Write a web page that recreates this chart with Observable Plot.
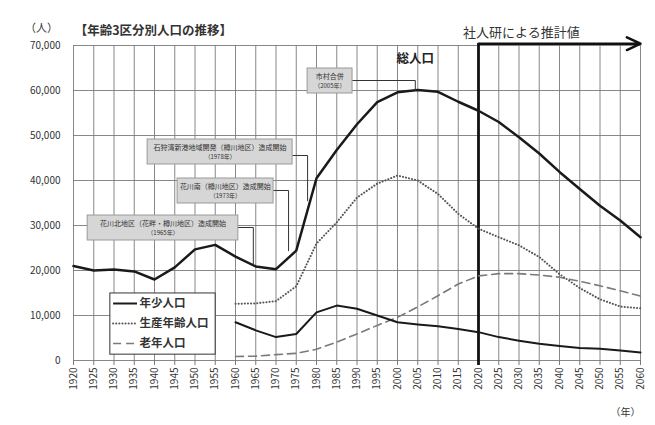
<!DOCTYPE html>
<html><head><meta charset="utf-8">
<script src="https://cdn.jsdelivr.net/npm/d3@7"></script>
<script src="https://cdn.jsdelivr.net/npm/@observablehq/plot@0.6"></script>
<style>body{margin:0;background:#fff;}</style>
</head><body><div id="chart"></div>
<script>
// ---- data ----
const years = [1920,1925,1930,1935,1940,1945,1950,1955,1960,1965,1970,1975,1980,1985,1990,1995,2000,2005,2010,2015,2020,2025,2030,2035,2040,2045,2050,2055,2060];
const total = [21000,20000,20200,19800,18000,20700,24700,25700,23100,20900,20300,24400,40500,46800,52500,57400,59600,60100,59700,57500,55500,53000,49600,46000,41900,38100,34400,31100,27400];
const ageYears = [1960,1965,1970,1975,1980,1985,1990,1995,2000,2005,2010,2015,2020,2025,2030,2035,2040,2045,2050,2055,2060];
const youth   = [8500,6700,5200,5900,10700,12200,11500,10000,8500,8000,7600,7000,6300,5200,4400,3700,3200,2800,2600,2200,1800];
const working = [12600,12700,13200,16500,26000,30700,36200,39300,41100,40000,37000,32600,29300,27400,25600,23000,19200,16100,13600,12000,11600];
const elderly = [900,950,1300,1600,2500,4100,5900,7800,9600,11900,14400,17000,18800,19300,19300,19000,18500,17600,16600,15500,14300];
const yTicks = [0,10000,20000,30000,40000,50000,60000,70000];
const xTicks = years;
const seriesNames = ["年少人口","生産年齢人口","老年人口"];
const forecastStart = 2020, forecastEnd = 2060;

// annotation boxes (data coordinates)
const notes = [
  {x1:1938.3,x2:1974.1,y1:43556,y2:49111,cx:1956.2,l1:"石狩湾新港地域開発（樽川地区）造成開始",l2:"（1978年）",ly1:47333,ly2:45111},
  {x1:1945.7,x2:1969.4,y1:34889,y2:40444,cx:1957.5,l1:"花川南（樽川地区）造成開始",l2:"（1973年）",ly1:38667,ly2:36444},
  {x1:1923.5,x2:1960.7,y1:26667,y2:32222,cx:1942.1,l1:"花川北地区（花畔・樽川地区）造成開始",l2:"（1965年）",ly1:30444,ly2:28222},
  {x1:1977.8,x2:1988.9,y1:59333,y2:64889,cx:1983.3,l1:"市村合併",l2:"（2005年）",ly1:63111,ly2:60889}
];
const leaders = [
  {id:1,pts:[[1974.1,45556],[1977.8,45556],[1977.8,35500]]},
  {id:2,pts:[[1969.4,37778],[1973.1,37778],[1973.1,24400]]},
  {id:3,pts:[[1960.7,29556],[1964.4,29556],[1964.4,21300]]},
  {id:4,pts:[[1988.9,62222],[2004.4,62222],[2004.4,60000]]}
].flatMap(d => d.pts.map(p => ({id:d.id, x:p[0], y:p[1]})));

const totalData = years.map((y,i)=>({year:y, v:total[i]}));
const youthData = ageYears.map((y,i)=>({year:y, v:youth[i]}));
const workData = ageYears.map((y,i)=>({year:y, v:working[i]}));
const oldData = ageYears.map((y,i)=>({year:y, v:elderly[i]}));

// legend entries (data coordinates)
const legend = [
  {name:seriesNames[0], y:12667, kind:"solid"},
  {name:seriesNames[1], y:8222, kind:"dot"},
  {name:seriesNames[2], y:3778, kind:"dash"}
];
const DOT = "0.1,3", DASH = "8,5";

const font = '"Noto Sans CJK JP", sans-serif';
const chart = Plot.plot({
  width:655, height:425,
  marginLeft:73, marginRight:15, marginTop:45, marginBottom:65,
  x:{domain:[1920,2060]},
  y:{domain:[0,70000]},
  style:{fontFamily:font, background:"#fff", color:"#333"},
  marks:[
    Plot.gridX(xTicks,{stroke:"#7a7a7a", strokeOpacity:1, strokeWidth:0.9}),
    Plot.gridY(yTicks,{stroke:"#7a7a7a", strokeOpacity:1, strokeWidth:0.9}),
    Plot.axisX({ticks:xTicks, tickFormat:d=>String(d), tickRotate:-90, tickSize:5, tickPadding:2, fontSize:10, label:null, stroke:"#7a7a7a"}),
    Plot.axisY({ticks:yTicks, tickFormat:d3.format(","), tickSize:0, tickPadding:13, fontSize:10, label:null}),
    // forecast marker
    Plot.ruleX([forecastStart],{y1:70400, y2:-1100, stroke:"#111", strokeWidth:2.8}),
    Plot.arrow([{a:forecastStart,b:forecastEnd,v:70400}],{x1:"a",x2:"b",y1:"v",y2:"v", stroke:"#111", strokeWidth:2.5, headLength:9, headAngle:50}),
    // series
    Plot.line(oldData,{x:"year",y:"v", stroke:"#7a7a7a", strokeWidth:1.6, strokeDasharray:DASH}),
    Plot.line(workData,{x:"year",y:"v", stroke:"#555", strokeWidth:2, strokeDasharray:DOT, strokeLinecap:"round"}),
    Plot.line(youthData,{x:"year",y:"v", stroke:"#1a1a1a", strokeWidth:2}),
    Plot.line(totalData,{x:"year",y:"v", stroke:"#1a1a1a", strokeWidth:2.5}),
    // annotations
    Plot.line(leaders,{x:"x",y:"y",z:"id", stroke:"#333", strokeWidth:1}),
    Plot.rect(notes,{x1:"x1",x2:"x2",y1:"y1",y2:"y2", fill:"#d6d6d6", stroke:"#999", strokeWidth:1}),
    Plot.text(notes,{x:"cx",y:"ly1",text:"l1", fontSize:7, fill:"#333"}),
    Plot.text(notes,{x:"cx",y:"ly2",text:"l2", fontSize:6, fill:"#333"}),
    Plot.text(["総人口"],{x:2004.4,y:67100,text:d=>d, fontSize:12.5, fontWeight:"bold", fill:"#222"}),
    // legend
    Plot.rect([0],{x1:1929.1,x2:1955.1,y1:1300,y2:14900, fill:"#fff", stroke:"#333", strokeWidth:1}),
    Plot.ruleY(legend.filter(d=>d.kind==="solid"),{y:"y", x1:1929.9, x2:1935.8, stroke:"#1a1a1a", strokeWidth:2}),
    Plot.ruleY(legend.filter(d=>d.kind==="dot"),{y:"y", x1:1929.9, x2:1935.9, stroke:"#555", strokeWidth:2, strokeDasharray:DOT, strokeLinecap:"round"}),
    Plot.ruleY(legend.filter(d=>d.kind==="dash"),{y:"y", x1:1929.9, x2:1935.9, stroke:"#7a7a7a", strokeWidth:1.6, strokeDasharray:DASH}),
    Plot.text(legend,{x:1936.3,y:"y",text:"name", textAnchor:"start", fontSize:11.5, fontWeight:"bold", fill:"#333"}),
    // titles
    Plot.text(["【年齢3区分別人口の推移】"],{x:1920.3,y:73300,text:d=>d, textAnchor:"start", fontSize:12.5, fontWeight:"bold", fill:"#333"}),
    Plot.text(["（人）"],{x:1912.1,y:73800,text:d=>d, fontSize:11, fill:"#333"}),
    Plot.text(["社人研による推計値"],{x:2030.6,y:72900,text:d=>d, fontSize:13, fill:"#333"}),
    Plot.text(["（年）"],{x:2056.3,y:-11556,text:d=>d, fontSize:10, fill:"#333"})
  ]
});
document.getElementById("chart").append(chart);
</script>
</body></html>
